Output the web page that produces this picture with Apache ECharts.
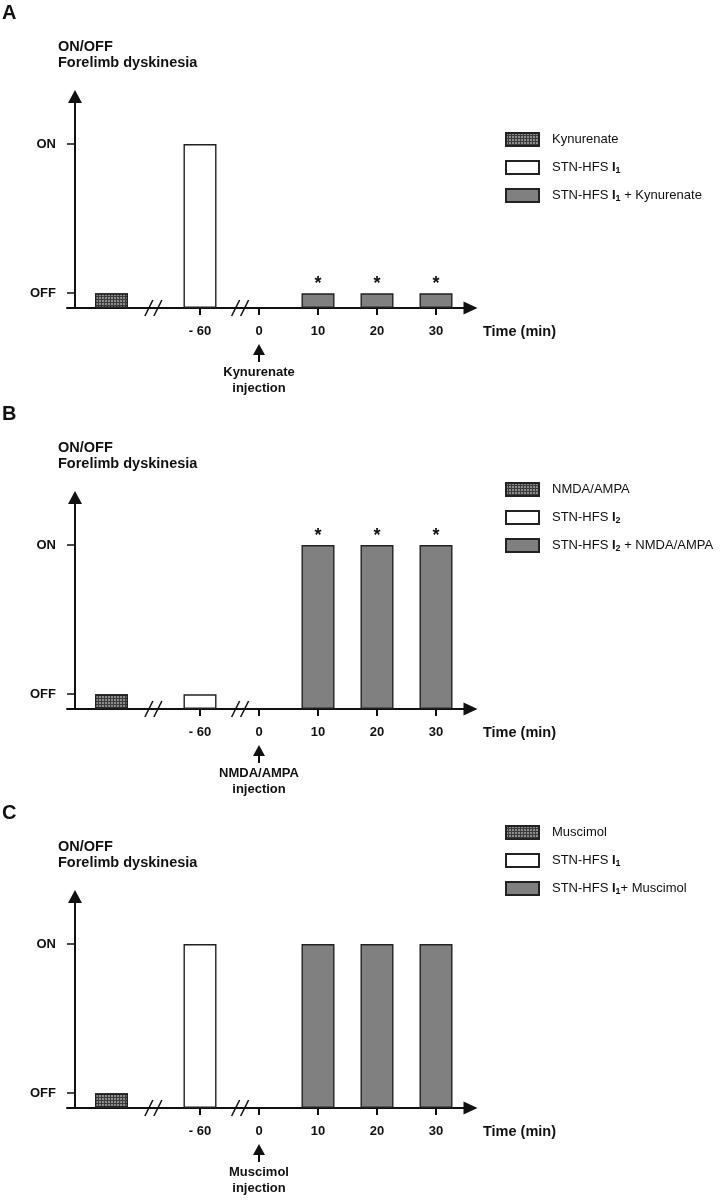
<!DOCTYPE html>
<html><head><meta charset="utf-8">
<script src="https://cdn.jsdelivr.net/npm/echarts@6/dist/echarts.min.js"></script>
<style>html,body{margin:0;padding:0;background:#fff}#c{width:720px;height:1200px}</style>
</head><body><div id="c"></div>
<script>
// ---------------- data ----------------
const panelLetters = ['A', 'B', 'C'];
const timeLabels = ['- 60', '0', '10', '20', '30'];          // x tick labels (min)
const comboTimes = ['10', '20', '30'];                       // time points after injection
const drugNames = ['Kynurenate', 'NMDA/AMPA', 'Muscimol'];
const stnNames = ['STN-HFS I1', 'STN-HFS I2', 'STN-HFS I1'];
const comboNames = ['STN-HFS I1 + Kynurenate', 'STN-HFS I2 + NMDA/AMPA', 'STN-HFS I1+ Muscimol'];
const drugAloneState = ['OFF', 'OFF', 'OFF'];                // drug alone (before break)
const stnState = ['ON', 'OFF', 'ON'];                        // STN-HFS at -60 min
const comboStateA = ['OFF', 'OFF', 'OFF'];
const comboStateB = ['ON', 'ON', 'ON'];
const comboStateC = ['ON', 'ON', 'ON'];
const significantA = [true, true, true];
const significantB = [true, true, true];
const significantC = [false, false, false];
const injectionLabels = ['Kynurenate\ninjection', 'NMDA/AMPA\ninjection', 'Muscimol\ninjection'];
const yTickLabels = ['OFF', 'ON'];
const levelValue = { OFF: 0.09, ON: 1 };

// ---------------- layout ----------------
const FONT = '"Liberation Sans", Arial, sans-serif';
const INK = '#111';
const baselines = [308, 709, 1108];
const plotH = 211.5;
const gridLeft = 67, gridWidth = 403.5;
const xMin = -2.2542, xMax = 4.5847;
const yMax = 1.2896;
const legendTops = [132, 482, 825];
const drugSlot = -1.5;
const breakSlots = [-0.79, 0.68];
const comboStates = [comboStateA, comboStateB, comboStateC];
const sigs = [significantA, significantB, significantC];
const slotOf = t => timeLabels.indexOf(t);

const chart = echarts.init(document.getElementById('c'), null, { renderer: 'canvas' });

const grids = [], xAxes = [], yAxes = [], series = [], legends = [];
const axisLineStyle = { color: INK, width: 2 };
const barBorder = { borderColor: '#222', borderWidth: 1.4 };
const subFormatter = name => name.replace(/I(\d)/, '{b|I}{sub|$1}');

for (let i = 0; i < 3; i++) {
  grids.push({ left: gridLeft, width: gridWidth, top: baselines[i] - plotH, height: plotH, containLabel: false, outerBoundsMode: 'none' });
  xAxes.push({
    gridIndex: i, type: 'value', min: xMin, max: xMax,
    axisLine: { show: true, onZero: false, lineStyle: axisLineStyle, symbol: ['none', 'triangle'], symbolSize: [13, 14] },
    axisTick: { show: true, length: 7, customValues: [0, 1, 2, 3, 4], lineStyle: { color: INK, width: 2 } },
    axisLabel: { show: true, customValues: [0, 1, 2, 3, 4], formatter: v => timeLabels[Math.round(v)], margin: 17,
      fontFamily: FONT, fontWeight: 'bold', fontSize: 13, color: INK },
    splitLine: { show: false }
  });
  yAxes.push({
    gridIndex: i, type: 'value', min: 0, max: yMax, offset: -8,
    axisLine: { show: true, onZero: false, lineStyle: axisLineStyle, symbol: ['none', 'triangle'], symbolSize: [14, 13] },
    axisTick: { show: true, length: 8, customValues: [levelValue.OFF, levelValue.ON], lineStyle: { color: INK, width: 1.5 } },
    axisLabel: { show: true, customValues: [levelValue.OFF, levelValue.ON],
      formatter: v => (Math.abs(v - levelValue.ON) < 1e-6 ? yTickLabels[1] : yTickLabels[0]), margin: 19,
      fontFamily: FONT, fontWeight: 'bold', fontSize: 13, color: INK },
    splitLine: { show: false }
  });
  series.push({
    type: 'bar', name: drugNames[i], xAxisIndex: i, yAxisIndex: i, barWidth: 33, barGap: '-100%',
    data: [[drugSlot, levelValue[drugAloneState[i]]]],
    itemStyle: Object.assign({ color: '#3b3b3b',
      decal: { symbol: 'rect', symbolSize: 1, dashArrayX: [2, 1], dashArrayY: [2, 1], color: '#8c8c8c', rotation: 0 } }, barBorder)
  });
  series.push({
    type: 'bar', name: stnNames[i], xAxisIndex: i, yAxisIndex: i, barWidth: 33, barGap: '-100%',
    data: [[slotOf('- 60'), levelValue[stnState[i]]]],
    itemStyle: Object.assign({ color: '#ffffff' }, barBorder)
  });
  const sig = sigs[i];
  series.push({
    type: 'bar', name: comboNames[i], xAxisIndex: i, yAxisIndex: i, barWidth: 33, barGap: '-100%',
    data: comboTimes.map((t, k) => [slotOf(t), levelValue[comboStates[i][k]]]),
    itemStyle: Object.assign({ color: '#808080' }, barBorder),
    label: { show: true, position: 'top', distance: 0, formatter: p => (sig[p.dataIndex] ? '*' : ''),
      fontFamily: FONT, fontWeight: 'bold', fontSize: 18, color: INK }
  });
  legends.push({
    data: [drugNames[i], stnNames[i], comboNames[i]],
    orient: 'vertical', left: 505, top: legendTops[i], padding: 0, itemWidth: 33, itemHeight: 13, itemGap: 13,
    icon: 'rect', selectedMode: false, formatter: subFormatter,
    textStyle: { fontFamily: FONT, fontSize: 13, color: INK, padding: [0, 0, 0, 8],
      rich: { b: { fontFamily: FONT, fontWeight: 'bold', fontSize: 13, color: INK },
              sub: { fontFamily: FONT, fontWeight: 'bold', fontSize: 9, color: INK, padding: [6, 0, 0, 0] } } }
  });
}

chart.setOption({
  animation: false, backgroundColor: '#fff',
  grid: grids, xAxis: xAxes, yAxis: yAxes, series: series, legend: legends
});

// ---------------- annotations placed through the axes ----------------
const graphics = [];
for (let i = 0; i < 3; i++) {
  const origin = chart.convertToPixel({ gridIndex: i }, [0, 0]);
  const base = origin[1];
  graphics.push({ type: 'text', left: 2, top: base - 305, style: { text: panelLetters[i], font: 'bold 20px ' + FONT, fill: INK } });
  graphics.push({ type: 'text', x: 58, y: base - 261, style: { text: 'ON/OFF', font: 'bold 14.5px ' + FONT, fill: INK, verticalAlign: 'middle' } });
  graphics.push({ type: 'text', x: 58, y: base - 245, style: { text: 'Forelimb dyskinesia', font: 'bold 14.5px ' + FONT, fill: INK, verticalAlign: 'middle' } });
  graphics.push({ type: 'text', x: 483, y: base + 24, style: { text: 'Time (min)', font: 'bold 14.5px ' + FONT, fill: INK, verticalAlign: 'middle' } });
  breakSlots.forEach(s => {
    const cx = chart.convertToPixel({ gridIndex: i }, [s, 0])[0];
    [-4.5, 4.5].forEach(o => {
      graphics.push({ type: 'line', shape: { x1: cx + o - 4, y1: base + 8, x2: cx + o + 4, y2: base - 8 }, style: { stroke: INK, lineWidth: 1.5 } });
    });
  });
  const ax = chart.convertToPixel({ gridIndex: i }, [slotOf('0'), 0])[0];
  graphics.push({ type: 'polygon', shape: { points: [[ax, base + 36], [ax - 6, base + 47], [ax + 6, base + 47]] }, style: { fill: INK } });
  graphics.push({ type: 'line', shape: { x1: ax, y1: base + 46, x2: ax, y2: base + 54 }, style: { stroke: INK, lineWidth: 2 } });
  graphics.push({ type: 'text', x: ax, y: base + 72.5, style: { text: injectionLabels[i], font: 'bold 13px ' + FONT, fill: INK,
    align: 'center', verticalAlign: 'middle', lineHeight: 16 } });
}
chart.setOption({ graphic: graphics });
</script></body></html>
